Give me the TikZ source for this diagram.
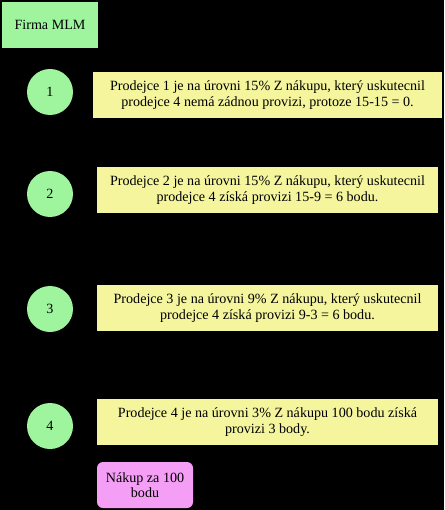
\documentclass[tikz,border=0pt]{standalone}
\usepackage{fontspec}
\setmainfont{Liberation Serif}
\definecolor{mgreen}{RGB}{158,245,158}
\definecolor{myellow}{RGB}{245,245,158}
\definecolor{mpink}{RGB}{245,158,245}
\begin{document}
\begin{tikzpicture}[x=1pt,y=-1pt,
  every node/.style={font=\fontsize{14.1}{15.5}\selectfont, text=black, inner sep=0pt, align=center},
  firm/.style={fill=mgreen, minimum width=96pt, minimum height=46pt},
  lvl/.style={circle, fill=mgreen, minimum size=46pt},
  info/.style={fill=myellow, minimum width=341pt, minimum height=46pt},
  buy/.style={fill=mpink, rounded corners=6pt, minimum width=96pt, minimum height=46pt}]
\fill[black] (0,0) rectangle (444,510);
\useasboundingbox (0,0) rectangle (444,510);
\node[firm] (f) at (50,25) {Firma MLM};
\node[lvl] (c1) at (50,92) {1};
\node[info, minimum width=349pt] (b1) at (267.5,95) {Prodejce 1 je na úrovni 15\% Z nákupu, který uskutecnil\\prodejce 4 nemá zádnou provizi, protoze 15-15 = 0.};
\node[lvl] (c2) at (50,194) {2};
\node[info] (b2) at (267.5,190) {Prodejce 2 je na úrovni 15\% Z nákupu, který uskutecnil\\prodejce 4 získá provizi 15-9 = 6 bodu.};
\node[lvl] (c3) at (50,309) {3};
\node[info] (b3) at (267.5,308) {Prodejce 3 je na úrovni 9\% Z nákupu, který uskutecnil\\prodejce 4 získá provizi 9-3 = 6 bodu.};
\node[lvl] (c4) at (50,426) {4};
\node[info] (b4) at (267.5,422) {Prodejce 4 je na úrovni 3\% Z nákupu 100 bodu získá\\provizi 3 body.};
\node[buy] (n) at (145,485) {Nákup za 100\\bodu};
\end{tikzpicture}
\end{document}
